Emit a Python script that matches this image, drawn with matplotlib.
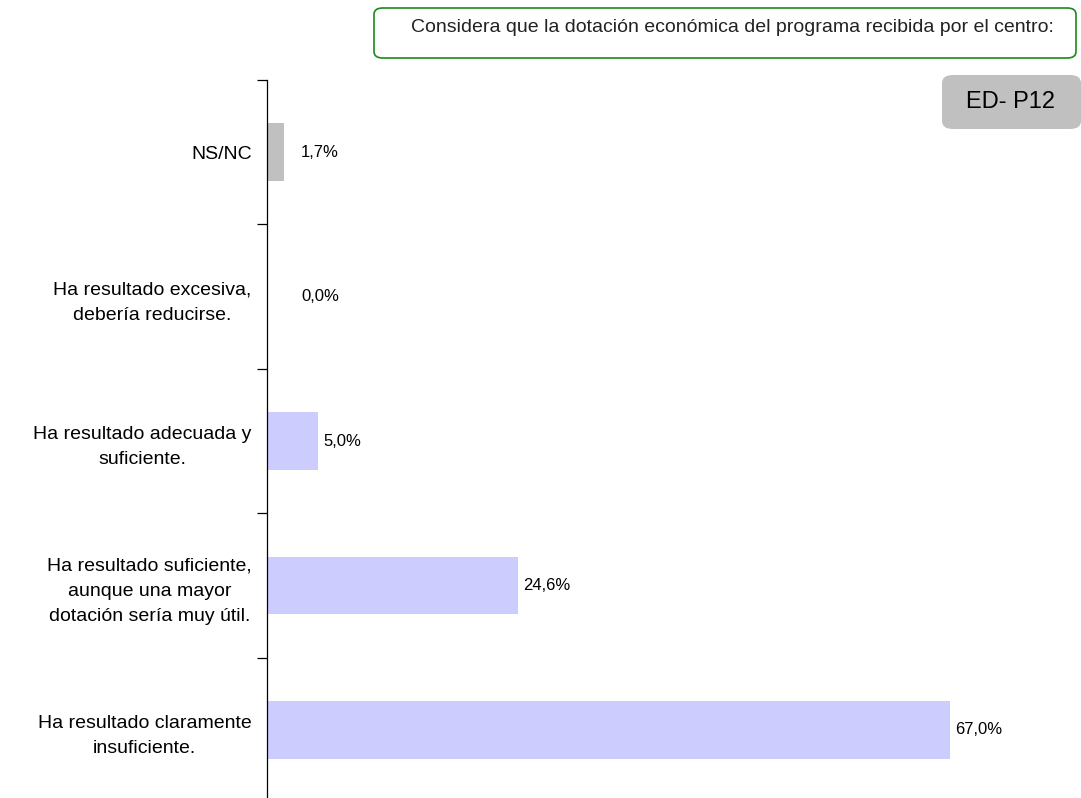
import matplotlib
matplotlib.use("Agg")
import matplotlib.pyplot as plt
from matplotlib.patches import FancyBboxPatch

plt.rcParams['font.family'] = ['Liberation Sans', 'DejaVu Sans']

categories = [
    "Ha resultado claramente\ninsuficiente.",
    "Ha resultado suficiente,\naunque una mayor\ndotación sería muy útil.",
    "Ha resultado adecuada y\nsuficiente.",
    "Ha resultado excesiva,\ndebería reducirse.",
    "NS/NC",
]
values = [67.0, 24.6, 5.0, 0.0, 1.7]
value_labels = ["67,0%", "24,6%", "5,0%", "0,0%", "1,7%"]
bar_colors = ["#CCCCFF", "#CCCCFF", "#CCCCFF", "#CCCCFF", "#C0C0C0"]

title_text = "Considera que la dotación económica del programa recibida por el centro:"
code_text = "ED- P12"

W, H = 1081, 798
fig = plt.figure(figsize=(W / 100, H / 100), dpi=100)

ax_left, ax_top, ax_bottom = 267, 80, 802
xmax = 80
px_per_unit = (950 - 267) / 67.0
ax_w = xmax * px_per_unit
ax = fig.add_axes([ax_left / W, (H - ax_bottom) / H, ax_w / W, (ax_bottom - ax_top) / H])

y = list(range(len(categories)))
ax.barh(y, values, height=0.4, color=bar_colors, edgecolor="none")
ax.set_xlim(0, xmax)
ax.set_ylim(-0.5, len(categories) - 0.5)

for s in ["top", "right", "bottom"]:
    ax.spines[s].set_visible(False)
ax.spines["left"].set_color("#000000")
ax.spines["left"].set_linewidth(0.9)
ax.set_xticks([])

# boundary ticks between categories, labels centred on each band
ax.set_yticks([i - 0.5 for i in range(len(categories) + 1)])
ax.set_yticklabels([])
ax.tick_params(axis="y", which="major", direction="out", length=7, width=0.9)
ax.set_yticks(y, minor=True)
ax.set_yticklabels(categories, minor=True, fontsize=14, ha="right",
                   multialignment="center", linespacing=1.62)
ax.tick_params(axis="y", which="minor", length=0, pad=11)

for yi, v, lab in zip(y, values, value_labels):
    off_px = max(v * px_per_unit + 5, 34)
    ax.annotate(lab, xy=(0, yi), xytext=(off_px * 0.72, 0), textcoords="offset points",
                va="center", ha="left", fontsize=12)

# question header box
fig.patches.append(FancyBboxPatch((374 / W, (H - 58) / H), (1076 - 374) / W, 50 / H,
                                  boxstyle="round,pad=0,rounding_size=0.008",
                                  transform=fig.transFigure, facecolor="white",
                                  edgecolor="#1a8a1a", linewidth=1.2))
fig.text(732 / W, (H - 28) / H, title_text, ha="center", va="center", fontsize=14,
         color="#222222")

# code box
fig.patches.append(FancyBboxPatch((942 / W, (H - 129) / H), (1081 - 942) / W, 54 / H,
                                  boxstyle="round,pad=0,rounding_size=0.01",
                                  transform=fig.transFigure, facecolor="#C0C0C0",
                                  edgecolor="none"))
fig.text(1011 / W, (H - 102) / H, code_text, ha="center", va="center", fontsize=17)

fig.savefig("out.png", dpi=100)
